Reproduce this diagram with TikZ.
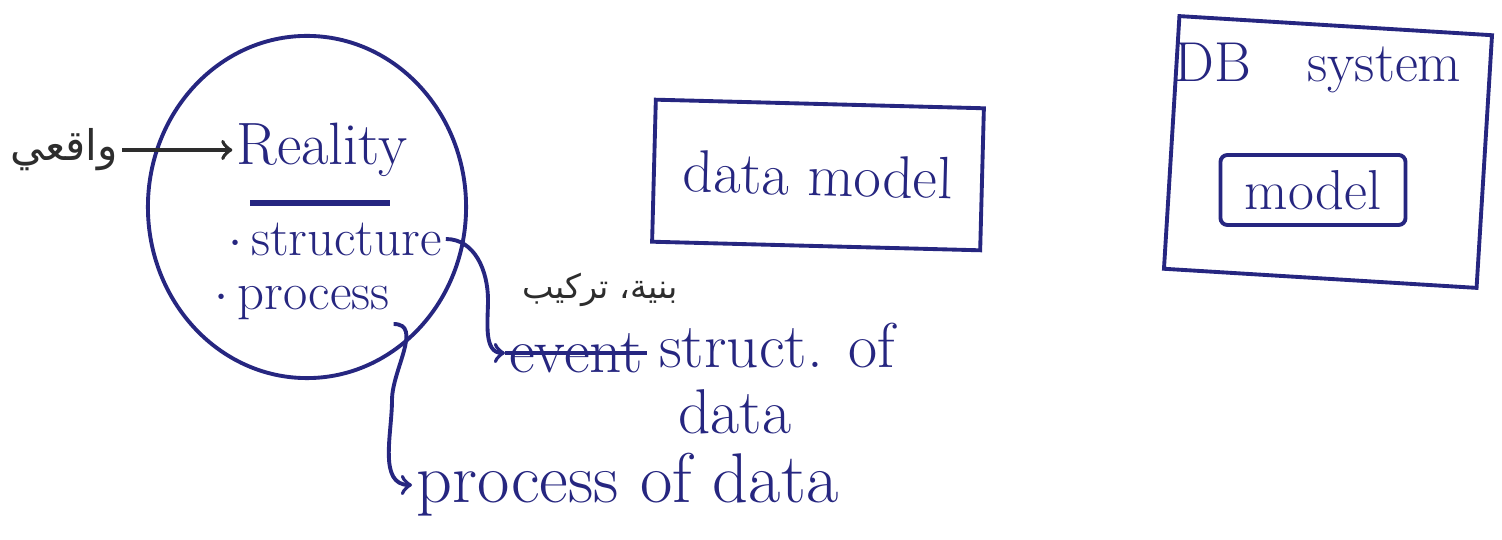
\documentclass[tikz,border=0pt]{standalone}
\usepackage{fontspec}
\usetikzlibrary{calc, positioning, shapes, arrows}
\TeXXeTstate=1
\newfontfamily\arabicfont[Script=Arabic]{DejaVu Sans}
\definecolor{ink}{RGB}{38,38,128}
\definecolor{pencil}{RGB}{45,45,45}
\tikzstyle{pen}=[ink, line width=1.1pt]
\tikzstyle{word}=[ink, inner sep=1pt]
\tikzstyle{arabic}=[pencil, inner sep=1pt, font=\arabicfont\fontsize{12}{14}\selectfont]
\tikzstyle{frame}=[draw=ink, line width=1.1pt, inner sep=0pt]

\begin{document}
\begin{tikzpicture}[x=0.01cm, y=-0.01cm]
		\useasboundingbox (0,0) rectangle (1502,540);
		\fill[white] (0,0) rectangle (1502,540);
		% reality
		\node[ellipse, frame, minimum width=3.18cm, minimum height=3.42cm] (rb) at (307,207) {};
		\node[word, font=\fontsize{17}{20}\selectfont] (rl) at (322,150) {Reality};
		\draw[pen, line width=1.6pt] (250,203) -- (390,203);
		\node[word, font=\fontsize{15}{17}\selectfont] (st) at (335,239) {$\cdot$\,structure};
		\node[word, font=\fontsize{15}{17}\selectfont] (pr) at (302,303) {$\cdot$\,process};
		\node[arabic] (wq) at (64,150) {\beginR واقعي\endR};
		\path (wq) edge[->, pencil, line width=1.1pt] (rl);
		% notes
		\node[arabic, font=\arabicfont\fontsize{9.5}{11}\selectfont] (bt) at (600,290) {\beginR بنية، تركيب\endR};
		\node[word, anchor=west, font=\fontsize{18}{20}\selectfont] (ev) at (505,353) {event};
		\draw[pen, line width=1.4pt] (ev.west) -- (ev.east);
		\node[word, anchor=west, font=\fontsize{18}{20}\selectfont] (so) at (655,346) {struct. of};
		\node[word, font=\fontsize{18}{20}\selectfont] (dt) at (735,412) {data};
		\node[word, anchor=west, font=\fontsize{20}{22}\selectfont] (pod) at (412,485) {process of data};
		\coordinate (sbend) at (488,300);
		\coordinate (pbend) at (392,400);
		\draw[pen, ->] (st.east) to[out=0, in=90] (sbend) to[out=-90, in=180] (ev.west);
		\draw[pen, ->] (pr.south east) to[out=0, in=90] (pbend) to[out=-90, in=180] (pod.west);
		% boxes
		\node[frame, rotate=-1.5, minimum width=3.28cm, minimum height=1.42cm, font=\fontsize{17}{20}\selectfont, text=ink] (dm) at (818,175) {data model};
		\node[frame, rotate=-3.5, minimum width=3.13cm, minimum height=2.53cm] (db) at (1328,152) {};
		\node[word, font=\fontsize{16}{18}\selectfont] (dbt) at (1318,68) {DB\quad system};
		\node[frame, rounded corners=2pt, minimum width=1.85cm, minimum height=0.7cm, font=\fontsize{16}{18}\selectfont, text=ink] (md) at (1313,190) {model};
	\end{tikzpicture}
\end{document}
